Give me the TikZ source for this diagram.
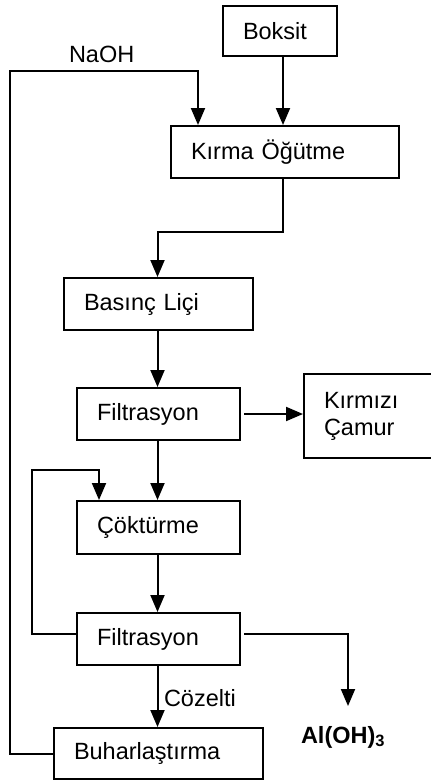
\documentclass[tikz,border=0pt]{standalone}
\usepackage{fontspec}
\setmainfont{Liberation Sans}
\usetikzlibrary{arrows.meta,calc}
\begin{document}
\begin{tikzpicture}[x=1pt,y=-1pt,
  line width=2pt,
  font=\fontsize{23.5}{27}\selectfont,
  box/.style={draw, anchor=north west, inner xsep=20pt, inner ysep=0pt, align=left},
  arr/.style={-{Triangle[width=14pt,length=17pt]}},
  lbl/.style={inner sep=0pt}]
\useasboundingbox (0,0) rectangle (431,780);
\clip (0,0) rectangle (431,780);
\node[box, text width=74pt, minimum height=50pt] (boksit) at (222,5) {Boksit};
\node[box, text width=188pt, minimum height=52pt] (kirma) at (170,125) {Kırma Öğütme};
\node[box, text width=149pt, minimum height=52pt] (basinc) at (63,277) {Basınç Liçi};
\node[box, text width=123pt, minimum height=52pt] (filt1) at (76,387) {Filtrasyon};
\node[box, text width=100pt, minimum height=84pt] (kirmizi) at (303,373) {Kırmızı\\Çamur};
\node[box, text width=123pt, minimum height=53pt] (cokt) at (76,500) {Çöktürme};
\node[box, text width=123pt, minimum height=52pt] (filt2) at (76,612) {Filtrasyon};
\node[box, text width=169pt, minimum height=51pt] (buhar) at (53,727) {Buharlaştırma};
\node[lbl, anchor=base west] (naoh) at (68,62) {NaOH};
\node[lbl, anchor=base west] (cozelti) at (163,706) {Cözelti};
\node[lbl, anchor=base west, font=\fontsize{23.5}{27}\selectfont\bfseries] (aloh) at (300,743) {Al(OH)\textsubscript{3}};
\coordinate (loopx) at (10,71);
\coordinate (recx) at (32,470);
\coordinate (alohtip) at (348,706);
% Boksit -> Kirma
\draw[arr] ($(boksit.south)+(3,0)$) -- ($(boksit.south |- kirma.north)+(3,0)$);
% NaOH loop from Buharlastirma
\draw[arr] (buhar.west) -- (buhar.west -| loopx) -- (loopx) -| ($(kirma.north west)+(28,0)$);
% Kirma -> Basinc
\draw[arr] ($(kirma.south)+(-2,0)$) -- ++(0,53) -| ($(basinc.north)+(-1,0)$);
% Basinc -> Filt1
\draw[arr] ($(basinc.south)+(-1,0)$) -- ($(filt1.north)+(-1,0)$);
% Filt1 -> Kirmizi
\draw[arr, shorten <=3pt] (filt1.east) -- (filt1.east -| kirmizi.west);
% Filt1 -> Cokt
\draw[arr] ($(filt1.south)+(-1,0)$) -- ($(cokt.north)+(-1,0)$);
% recycle Filt2 -> Cokt
\draw[arr] ($(filt2.west)+(0,-5)$) -- ($(filt2.west -| recx)+(0,-5)$) -- (recx) -| ($(cokt.north west)+(23,0)$);
% Cokt -> Filt2
\draw[arr] ($(cokt.south)+(-1,0)$) -- ($(filt2.north)+(-1,0)$);
% Filt2 -> Al(OH)3
\draw[arr, shorten <=3pt] ($(filt2.east)+(0,-5)$) -- ($(filt2.east -| alohtip)+(0,-5)$) -- (alohtip);
% Filt2 -> Buhar
\draw[arr] ($(filt2.south)+(-1,0)$) -- ($(buhar.north)+(-1,0)$);
\end{tikzpicture}
\end{document}
